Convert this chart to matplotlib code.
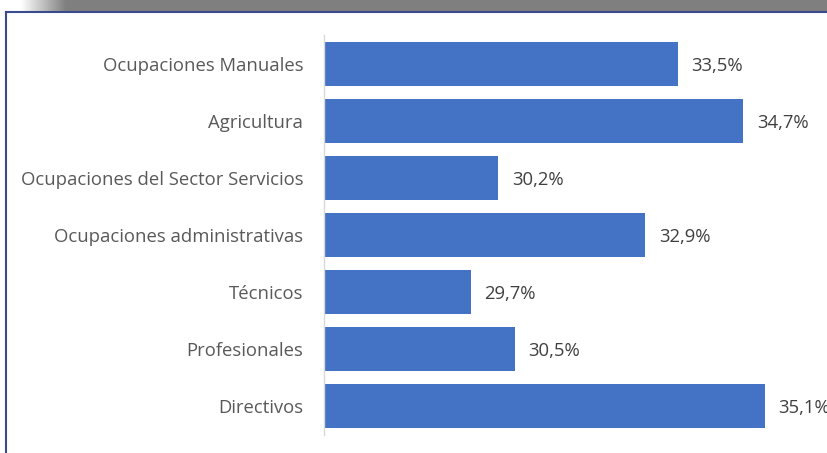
import matplotlib
matplotlib.use("Agg")
import matplotlib.pyplot as plt
import numpy as np

categories = ["Ocupaciones Manuales", "Agricultura", "Ocupaciones del Sector Servicios",
              "Ocupaciones administrativas", "Técnicos", "Profesionales", "Directivos"]
values = [33.5, 34.7, 30.2, 32.9, 29.7, 30.5, 35.1]
value_labels = ["33,5%", "34,7%", "30,2%", "32,9%", "29,7%", "30,5%", "35,1%"]

plt.rcParams['font.family'] = ['Open Sans', 'DejaVu Sans']

W, H = 828, 453
fig = plt.figure(figsize=(W/100, H/100), dpi=100)
fig.patch.set_facecolor("white")

# top grey gradient band
band = fig.add_axes([0, 1 - 11/H, 1, 11/H])
grad = np.linspace(0, 1, 400)
gvals = np.clip((grad * W - 20) / 45, 0, 1)
img = np.ones((1, 400, 3))
for c in range(3):
    img[0, :, c] = 1 - gvals * (1 - 0.50)
band.imshow(img, aspect="auto", extent=[0, 1, 0, 1])
band.axis("off")

# blue frame lines
fig.add_artist(plt.Line2D([6/W, 1], [1 - 12/H, 1 - 12/H], color="#3b4a8c", lw=1.5))
fig.add_artist(plt.Line2D([6/W, 6/W], [0, 1 - 12/H], color="#3b4a8c", lw=1.5))

ax = fig.add_axes([324/W, 1 - 435/H, (814 - 324)/W, 400/H])
y = np.arange(len(categories))
ax.barh(y, values, height=0.77, color="#4472C4", left=0)
ax.set_xlim(27, 36)
ax.set_ylim(len(categories) - 0.5, -0.5)
ax.set_yticks(y)
ax.set_yticklabels(categories, fontsize=13.3, color="#595959")
ax.tick_params(axis="y", length=0, pad=15)
ax.set_xticks([])
for s in ["top", "right", "bottom"]:
    ax.spines[s].set_visible(False)
ax.spines["left"].set_color("#d9d9d9")
ax.spines["left"].set_linewidth(1)
for yi, v, lab in zip(y, values, value_labels):
    ax.text(v + 0.25, yi, lab, va="center_baseline", ha="left", fontsize=13.3,
            color="#404040", clip_on=False)

fig.savefig("out.png", dpi=100)
